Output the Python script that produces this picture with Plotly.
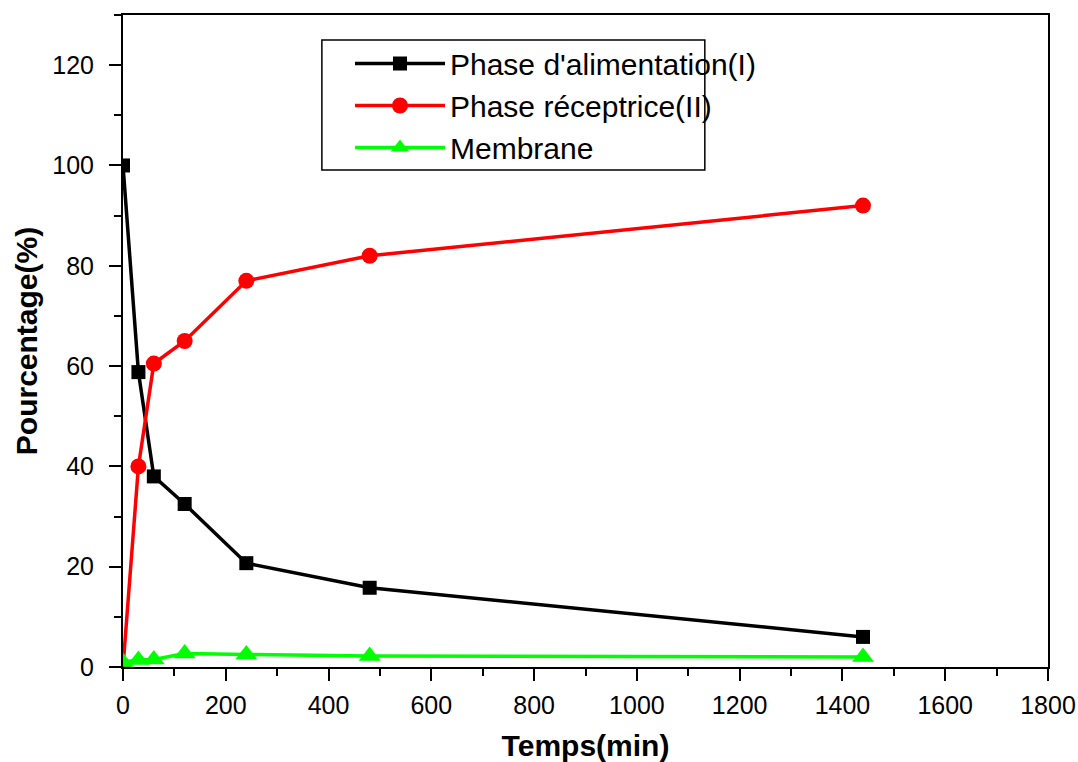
import plotly.graph_objects as go

temps = [0, 30, 60, 120, 240, 480, 1440]
alimentation = [100, 58.8, 38.0, 32.5, 20.7, 15.8, 6.0]
receptrice = [0, 40.0, 60.5, 65.0, 77.0, 82.0, 92.0]
membrane = [1.0, 1.4, 1.5, 2.7, 2.5, 2.2, 2.0]

names = ["Phase d'alimentation(I)", "Phase réceptrice(II)", "Membrane"]
x_ticks = list(range(0, 1801, 200))
y_ticks = list(range(0, 121, 20))

fig = go.Figure()
fig.add_trace(go.Scatter(x=temps, y=alimentation, name=names[0], mode="lines+markers",
                         line=dict(color="black", width=3.5),
                         marker=dict(symbol="square", size=14, color="black")))
fig.add_trace(go.Scatter(x=temps, y=receptrice, name=names[1], mode="lines+markers",
                         line=dict(color="#ff0000", width=3.5),
                         marker=dict(symbol="circle", size=16, color="#ff0000")))
fig.add_trace(go.Scatter(x=temps, y=membrane, name=names[2], mode="lines+markers",
                         line=dict(color="#00ff00", width=3.5),
                         marker=dict(symbol="triangle-up", size=19, color="#00ff00")))

# legend frame
fig.add_shape(type="rect", xref="paper", yref="paper",
              x0=0.215, x1=0.629, y0=0.7623, y1=0.9617,
              line=dict(color="black", width=1.5), fillcolor="white", layer="below")

fig.update_layout(
    width=1078, height=762,
    margin=dict(l=123, r=30, t=15, b=95),
    paper_bgcolor="white", plot_bgcolor="white",
    font=dict(family="Arial, Liberation Sans", size=25, color="black"),
    showlegend=True,
    legend=dict(x=0.2454, y=0.9655, xanchor="left", yanchor="top",
                borderwidth=0, bgcolor="rgba(0,0,0,0)",
                font=dict(size=30), itemwidth=90, tracegroupgap=0,
                traceorder="normal"),
    xaxis=dict(range=[0, 1800], tickvals=x_ticks, automargin=False, ticklabelstandoff=3,
               showgrid=False, zeroline=False, showline=True, linecolor="black", linewidth=2,
               mirror=True, ticks="outside", ticklen=12, tickwidth=2, tickcolor="black",
               minor=dict(ticks="outside", ticklen=7, tickwidth=2, tickcolor="black", dtick=100),
               title=dict(text="<b>Temps(min)</b>", font=dict(size=30), standoff=27)),
    yaxis=dict(range=[0, 130], tickvals=y_ticks, automargin=False, ticklabelstandoff=10,
               showgrid=False, zeroline=False, showline=True, linecolor="black", linewidth=2,
               mirror=True, ticks="outside", ticklen=12, tickwidth=2, tickcolor="black",
               minor=dict(ticks="outside", ticklen=7, tickwidth=2, tickcolor="black", dtick=10),
               title=dict(text="<b>Pourcentage(%)</b>", font=dict(size=30), standoff=6)),
)

fig.write_html("out.html", config={"displayModeBar": False},
               post_script="document.body.style.margin='0';document.body.style.overflow='hidden';")
